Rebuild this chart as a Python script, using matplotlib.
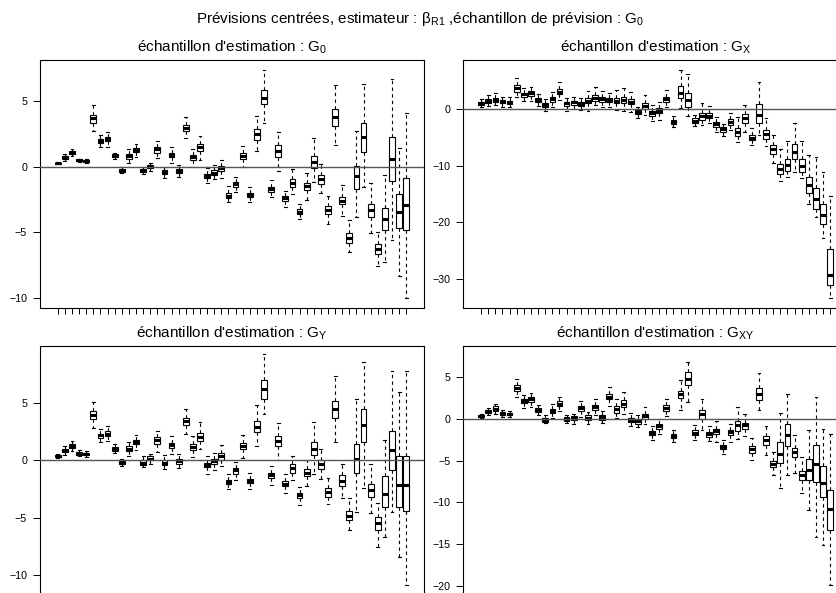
import matplotlib
matplotlib.use('Agg')
import matplotlib.pyplot as plt

plt.rcParams['font.family'] = ['Liberation Sans', 'DejaVu Sans']
plt.rcParams['mathtext.fontset'] = 'custom'
plt.rcParams['mathtext.rm'] = 'Liberation Sans'
plt.rcParams['mathtext.it'] = 'Liberation Sans:italic'
plt.rcParams['mathtext.bf'] = 'Liberation Sans:bold'

# ---------------- data: panel G0 ----------------
g0_lo = [0.18, 0.46, 0.81, 0.35, 0.30, 2.72, 1.52, 1.47, 0.58, -0.51,
         0.25, 0.71, -0.56, -0.30, 0.63, -0.86, 0.30, -0.76, 2.16, 0.00,
         0.51, -1.22, -0.96, -0.84, -2.66, -1.90, 0.00, -2.66, 1.19, 3.35,
         -2.28, -0.30, -3.05, -2.08, -3.98, -2.54, -1.14, -2.03, -4.37, 1.65,
         -3.76, -6.47, -3.81, -1.52, -5.03, -7.56, -7.23, -5.58, -8.30, -10.03]
g0_q1 = [0.22, 0.61, 0.96, 0.40, 0.36, 3.35, 1.78, 1.93, 0.75, -0.40,
         0.61, 1.12, -0.42, -0.13, 1.07, -0.56, 0.71, -0.51, 2.72, 0.51,
         1.22, -0.84, -0.63, -0.30, -2.36, -1.52, 0.56, -2.34, 2.03, 4.75,
         -1.90, 0.76, -2.61, -1.52, -3.63, -1.78, -0.08, -1.32, -3.60, 3.12,
         -2.87, -5.79, -1.70, 1.09, -3.86, -6.65, -4.82, -1.07, -4.70, -4.82]
g0_med = [0.25, 0.70, 1.07, 0.48, 0.43, 3.68, 1.98, 2.10, 0.84, -0.30,
          0.81, 1.29, -0.30, 0.00, 1.32, -0.38, 0.89, -0.30, 2.97, 0.71,
          1.47, -0.69, -0.46, -0.13, -2.20, -1.35, 0.81, -2.16, 2.46, 5.20,
          -1.70, 1.22, -2.41, -1.22, -3.43, -1.47, 0.33, -0.96, -3.30, 3.81,
          -2.59, -5.41, -0.71, 2.23, -3.30, -6.29, -3.98, 0.58, -3.43, -2.94]
g0_q3 = [0.30, 0.81, 1.17, 0.55, 0.50, 3.93, 2.13, 2.28, 0.95, -0.20,
         0.96, 1.45, -0.18, 0.13, 1.52, -0.25, 1.07, -0.15, 3.17, 0.89,
         1.70, -0.56, -0.25, 0.08, -2.03, -1.17, 1.02, -1.98, 2.87, 5.84,
         -1.52, 1.65, -2.21, -0.96, -3.25, -1.22, 0.84, -0.63, -2.97, 4.37,
         -2.28, -5.08, 0.08, 3.30, -2.84, -5.91, -3.12, 2.28, -2.08, -0.84]
g0_hi = [0.33, 0.96, 1.35, 0.60, 0.55, 4.70, 2.41, 2.66, 1.07, -0.05,
         1.32, 1.73, 0.00, 0.25, 1.98, 0.00, 1.47, 0.13, 3.81, 1.32,
         2.34, -0.13, 0.13, 0.51, -1.45, -0.76, 1.57, -1.57, 3.88, 7.36,
         -1.02, 2.66, -1.83, -0.18, -2.84, -0.51, 2.16, 0.20, -2.20, 6.22,
         -1.40, -4.06, 2.72, 6.29, -1.27, -4.95, -0.63, 6.65, 1.40, 4.06]

# ---------------- data: panel GX ----------------
gx_lo = [0.35, 0.59, 0.77, 0.47, 0.35, 2.24, 1.47, 1.53, 0.59, -0.24,
         0.47, 1.65, -0.29, 0.00, -0.12, -0.24, 0.77, 0.47, 0.35, -0.12,
         -0.29, -0.41, -1.47, -1.00, -2.00, -1.89, 0.35, -3.18, 0.18, -1.18,
         -2.95, -2.77, -2.36, -3.95, -4.71, -3.65, -5.72, -3.95, -6.31, -4.54,
         -6.48, -9.55, -12.61, -12.02, -11.02, -12.20, -16.73, -18.97, -22.69, -33.40]
gx_q1 = [0.71, 1.18, 1.36, 1.06, 0.94, 3.12, 2.24, 2.42, 1.24, 0.47,
         1.24, 2.65, 0.59, 0.77, 0.59, 1.06, 1.53, 1.36, 1.24, 1.06,
         1.06, 0.88, -0.82, 0.06, -1.18, -0.71, 1.24, -2.59, 1.94, 0.47,
         -2.36, -1.89, -1.59, -3.06, -3.95, -2.77, -4.71, -2.47, -5.42, -2.47,
         -5.24, -7.90, -11.43, -10.84, -8.78, -11.02, -14.85, -17.62, -20.27, -31.05]
gx_med = [1.06, 1.53, 1.65, 1.36, 1.24, 3.71, 2.65, 2.83, 1.65, 0.82,
          1.77, 3.12, 1.06, 1.24, 0.94, 1.53, 2.06, 1.77, 1.65, 1.53,
          1.65, 1.36, -0.41, 0.59, -0.71, -0.29, 1.77, -2.18, 2.95, 1.65,
          -2.00, -1.18, -1.12, -2.59, -3.54, -2.18, -4.07, -1.59, -5.01, -1.00,
          -4.42, -7.07, -10.55, -9.84, -7.48, -9.96, -13.38, -15.91, -18.68, -29.30]
gx_q3 = [1.36, 1.83, 1.94, 1.65, 1.53, 4.30, 2.95, 3.18, 1.94, 1.18,
         2.12, 3.59, 1.36, 1.53, 1.24, 1.94, 2.53, 2.12, 2.06, 2.06,
         2.24, 1.83, -0.12, 1.06, -0.29, 0.18, 2.24, -1.89, 4.12, 2.83,
         -1.59, -0.59, -0.59, -2.18, -3.18, -1.71, -3.36, -0.88, -4.54, 0.88,
         -3.65, -6.31, -9.66, -8.78, -6.19, -8.78, -12.02, -13.97, -16.73, -24.75]
gx_hi = [1.83, 2.53, 2.83, 2.24, 2.12, 5.48, 3.71, 4.00, 2.71, 1.77,
         3.12, 4.89, 2.06, 2.12, 1.94, 3.30, 4.00, 3.30, 2.95, 3.42,
         3.83, 3.12, 0.47, 2.53, 0.77, 1.36, 3.42, -1.12, 6.95, 6.19,
         -1.00, 1.06, 0.59, -1.30, -2.59, -0.59, -1.30, 0.77, -3.36, 4.89,
         -1.47, -4.54, -7.01, -5.54, -2.47, -5.54, -8.07, -8.49, -11.14, -15.26]

# ---------------- data: panel GY ----------------
gy_lo = [0.17, 0.49, 0.81, 0.35, 0.29, 2.85, 1.60, 1.69, 0.64, -0.49,
         0.38, 0.93, -0.58, -0.29, 0.73, -0.78, 0.52, -0.64, 2.27, 0.29,
         1.02, -1.16, -0.81, -0.49, -2.47, -1.74, 0.23, -2.47, 1.25, 4.07,
         -2.18, 0.06, -2.85, -1.74, -3.92, -2.27, -1.16, -1.66, -3.84, 1.60,
         -3.26, -6.10, -4.51, -2.38, -4.56, -7.50, -6.69, -4.51, -8.43, -10.81]
gy_q1 = [0.29, 0.73, 1.10, 0.47, 0.44, 3.63, 1.98, 2.12, 0.81, -0.35,
         0.81, 1.40, -0.41, 0.00, 1.45, -0.41, 1.10, -0.29, 3.05, 0.87,
         1.66, -0.58, -0.29, 0.06, -2.03, -1.16, 0.96, -1.98, 2.47, 5.35,
         -1.54, 1.25, -2.27, -1.08, -3.28, -1.40, 0.44, -0.73, -3.20, 3.72,
         -2.27, -5.17, -1.08, 1.60, -3.20, -6.02, -4.07, -0.87, -4.07, -4.45]
gy_med = [0.38, 0.87, 1.25, 0.58, 0.55, 3.98, 2.18, 2.33, 1.02, -0.20,
          1.02, 1.60, -0.20, 0.15, 1.74, -0.20, 1.31, -0.06, 3.40, 1.16,
          2.03, -0.38, -0.06, 0.38, -1.89, -0.87, 1.25, -1.80, 2.91, 6.19,
          -1.31, 1.69, -2.03, -0.67, -3.05, -1.08, 0.96, -0.35, -2.76, 4.42,
          -1.80, -4.80, 0.15, 3.05, -2.62, -5.47, -2.91, 0.87, -2.18, -2.12]
gy_q3 = [0.47, 1.02, 1.40, 0.70, 0.67, 4.30, 2.33, 2.53, 1.16, -0.06,
         1.25, 1.80, 0.00, 0.35, 2.03, 0.06, 1.51, 0.15, 3.72, 1.40,
         2.38, -0.20, 0.15, 0.64, -1.69, -0.67, 1.51, -1.60, 3.40, 6.98,
         -1.08, 2.12, -1.80, -0.29, -2.82, -0.78, 1.60, 0.00, -2.38, 5.17,
         -1.25, -4.42, 1.45, 4.45, -2.03, -4.94, -1.37, 2.56, 0.41, 0.41]
gy_hi = [0.58, 1.22, 1.69, 0.87, 0.81, 5.03, 2.76, 2.97, 1.40, 0.15,
         1.60, 2.24, 0.38, 0.52, 2.53, 0.44, 2.12, 0.58, 4.45, 2.09,
         3.34, 0.35, 0.64, 1.31, -1.16, -0.15, 2.24, -1.10, 4.80, 9.22,
         -0.52, 3.26, -1.22, 0.38, -2.33, 0.06, 3.34, 0.96, -1.54, 7.33,
         -0.29, -3.26, 5.29, 8.58, -0.29, -3.69, 1.80, 7.76, 5.90, 7.76]

# ---------------- data: panel GXY ----------------
gxy_lo = [0.12, 0.44, 0.64, 0.24, 0.24, 2.65, 1.36, 1.44, 0.44, -0.48,
          0.16, 0.96, -0.48, -0.56, 0.24, -0.56, 0.44, -0.48, 1.52, 0.16,
          0.64, -0.88, -0.96, -0.56, -2.49, -1.76, 0.32, -2.77, 1.12, 2.04,
          -2.57, -1.36, -2.69, -2.77, -4.25, -2.77, -2.45, -2.09, -4.89, 1.04,
          -4.37, -6.78, -8.30, -6.78, -6.46, -8.90, -10.99, -14.11, -15.12, -19.89]
gxy_q1 = [0.24, 0.72, 0.96, 0.48, 0.44, 3.37, 1.92, 2.04, 0.80, -0.32,
          0.72, 1.56, -0.24, -0.08, 0.96, -0.08, 1.12, -0.08, 2.33, 0.76,
          1.44, -0.36, -0.56, 0.04, -1.96, -1.16, 0.96, -2.29, 2.45, 4.05,
          -1.96, -0.04, -2.17, -1.84, -3.65, -1.88, -1.44, -1.16, -4.05, 2.25,
          -3.09, -5.77, -5.25, -3.25, -4.57, -7.38, -7.38, -7.58, -9.39, -13.30]
gxy_med = [0.36, 0.92, 1.24, 0.64, 0.60, 3.73, 2.17, 2.33, 1.04, -0.08,
           0.96, 1.84, 0.00, 0.16, 1.32, 0.16, 1.44, 0.24, 2.65, 1.16,
           1.84, -0.08, -0.28, 0.36, -1.68, -0.84, 1.32, -2.04, 2.93, 4.73,
           -1.64, 0.56, -1.84, -1.48, -3.37, -1.56, -0.68, -0.68, -3.65, 2.93,
           -2.57, -5.37, -4.17, -1.96, -3.97, -6.78, -6.17, -5.37, -7.66, -10.79]
gxy_q3 = [0.48, 1.12, 1.52, 0.80, 0.76, 4.05, 2.41, 2.57, 1.28, 0.16,
          1.24, 2.13, 0.24, 0.40, 1.60, 0.44, 1.72, 0.48, 2.97, 1.52,
          2.25, 0.16, -0.04, 0.64, -1.44, -0.56, 1.64, -1.76, 3.37, 5.57,
          -1.36, 1.04, -1.56, -1.16, -3.09, -1.28, -0.24, -0.44, -3.29, 3.65,
          -2.09, -5.05, -2.77, -0.64, -3.49, -6.25, -4.85, -3.17, -5.65, -8.58]
gxy_hi = [0.64, 1.36, 1.76, 1.04, 0.96, 4.77, 2.85, 3.05, 1.64, 0.44,
          1.76, 2.65, 0.44, 0.64, 2.13, 0.84, 2.37, 0.92, 3.77, 2.37,
          3.17, 0.72, 0.44, 1.44, -0.88, 0.04, 2.33, -1.28, 4.65, 6.82,
          -0.76, 2.37, -0.88, -0.24, -2.57, -0.56, 1.44, 0.64, -2.29, 5.45,
          -0.88, -3.97, 0.72, 2.97, -1.88, -4.57, -1.36, 2.57, -1.16, -1.84]

main_title = ("Prévisions centrées, estimateur : $\\mathregular{β_{R1}}$"
              " ,échantillon de prévision : $\\mathregular{G_0}$")
panel_titles = ["échantillon d'estimation : $\\mathregular{G_0}$",
                "échantillon d'estimation : $\\mathregular{G_X}$",
                "échantillon d'estimation : $\\mathregular{G_Y}$",
                "échantillon d'estimation : $\\mathregular{G_{XY}}$"]
panel_yticks = [[-10, -5, 0, 5], [-30, -20, -10, 0],
                [-10, -5, 0, 5], [-20, -15, -10, -5, 0, 5]]
panel_ylims = [(-10.74, 8.12), (-35.06, 8.72), (-11.6, 9.94), (-20.97, 8.74)]

data = [(g0_lo, g0_q1, g0_med, g0_q3, g0_hi),
        (gx_lo, gx_q1, gx_med, gx_q3, gx_hi),
        (gy_lo, gy_q1, gy_med, gy_q3, gy_hi),
        (gxy_lo, gxy_q1, gxy_med, gxy_q3, gxy_hi)]

W, H = 837, 593
fig = plt.figure(figsize=(W / 100, H / 100), dpi=100)


def rect(l, t, r, b):
    return [l / W, 1 - b / H, (r - l) / W, (b - t) / H]


rects = [rect(40, 60, 424, 307.7), rect(463.3, 60, 848, 307.7),
         rect(40, 346, 424, 593.7), rect(463.3, 346, 848, 593.7)]

for k in range(4):
    ax = fig.add_axes(rects[k])
    lo, q1, med, q3, hi = data[k]
    n = len(med)
    stats = [dict(med=med[i], q1=q1[i], q3=q3[i], whislo=lo[i], whishi=hi[i],
                  fliers=[]) for i in range(n)]
    pos = list(range(1, n + 1))
    ax.bxp(stats, positions=pos, widths=0.8, capwidths=0.4, showfliers=False,
           patch_artist=True, manage_ticks=False,
           boxprops=dict(facecolor='white', edgecolor='black', linewidth=0.8),
           medianprops=dict(color='black', linewidth=2.2, solid_capstyle='butt'),
           whiskerprops=dict(color='black', linewidth=0.8, linestyle=(0, (3, 3))),
           capprops=dict(color='black', linewidth=0.8))
    ax.axhline(0, color='#555555', linewidth=1.0, zorder=5)
    ax.set_xlim(-1.5, n + 2.5)
    ax.set_ylim(*panel_ylims[k])
    ax.set_xticks(pos)
    ax.set_xticklabels([])
    ax.set_yticks(panel_yticks[k])
    ax.set_yticklabels([str(t).replace('-', '\u2212') for t in panel_yticks[k]])
    ax.tick_params(axis='x', length=4.5, width=0.7, direction='out')
    ax.tick_params(axis='y', length=4.8, width=0.7, direction='out',
                   labelsize=7.7, pad=4.5)
    for s in ax.spines.values():
        s.set_linewidth(0.8)
        s.set_color('black')
    ax.text(0.5, 1 + 13 / 247.7, panel_titles[k], transform=ax.transAxes,
            ha='center', va='center', fontsize=11)

fig.text(420 / W, 1 - 19 / H, main_title, ha='center', va='center', fontsize=11)

fig.savefig('out.png', dpi=100)
